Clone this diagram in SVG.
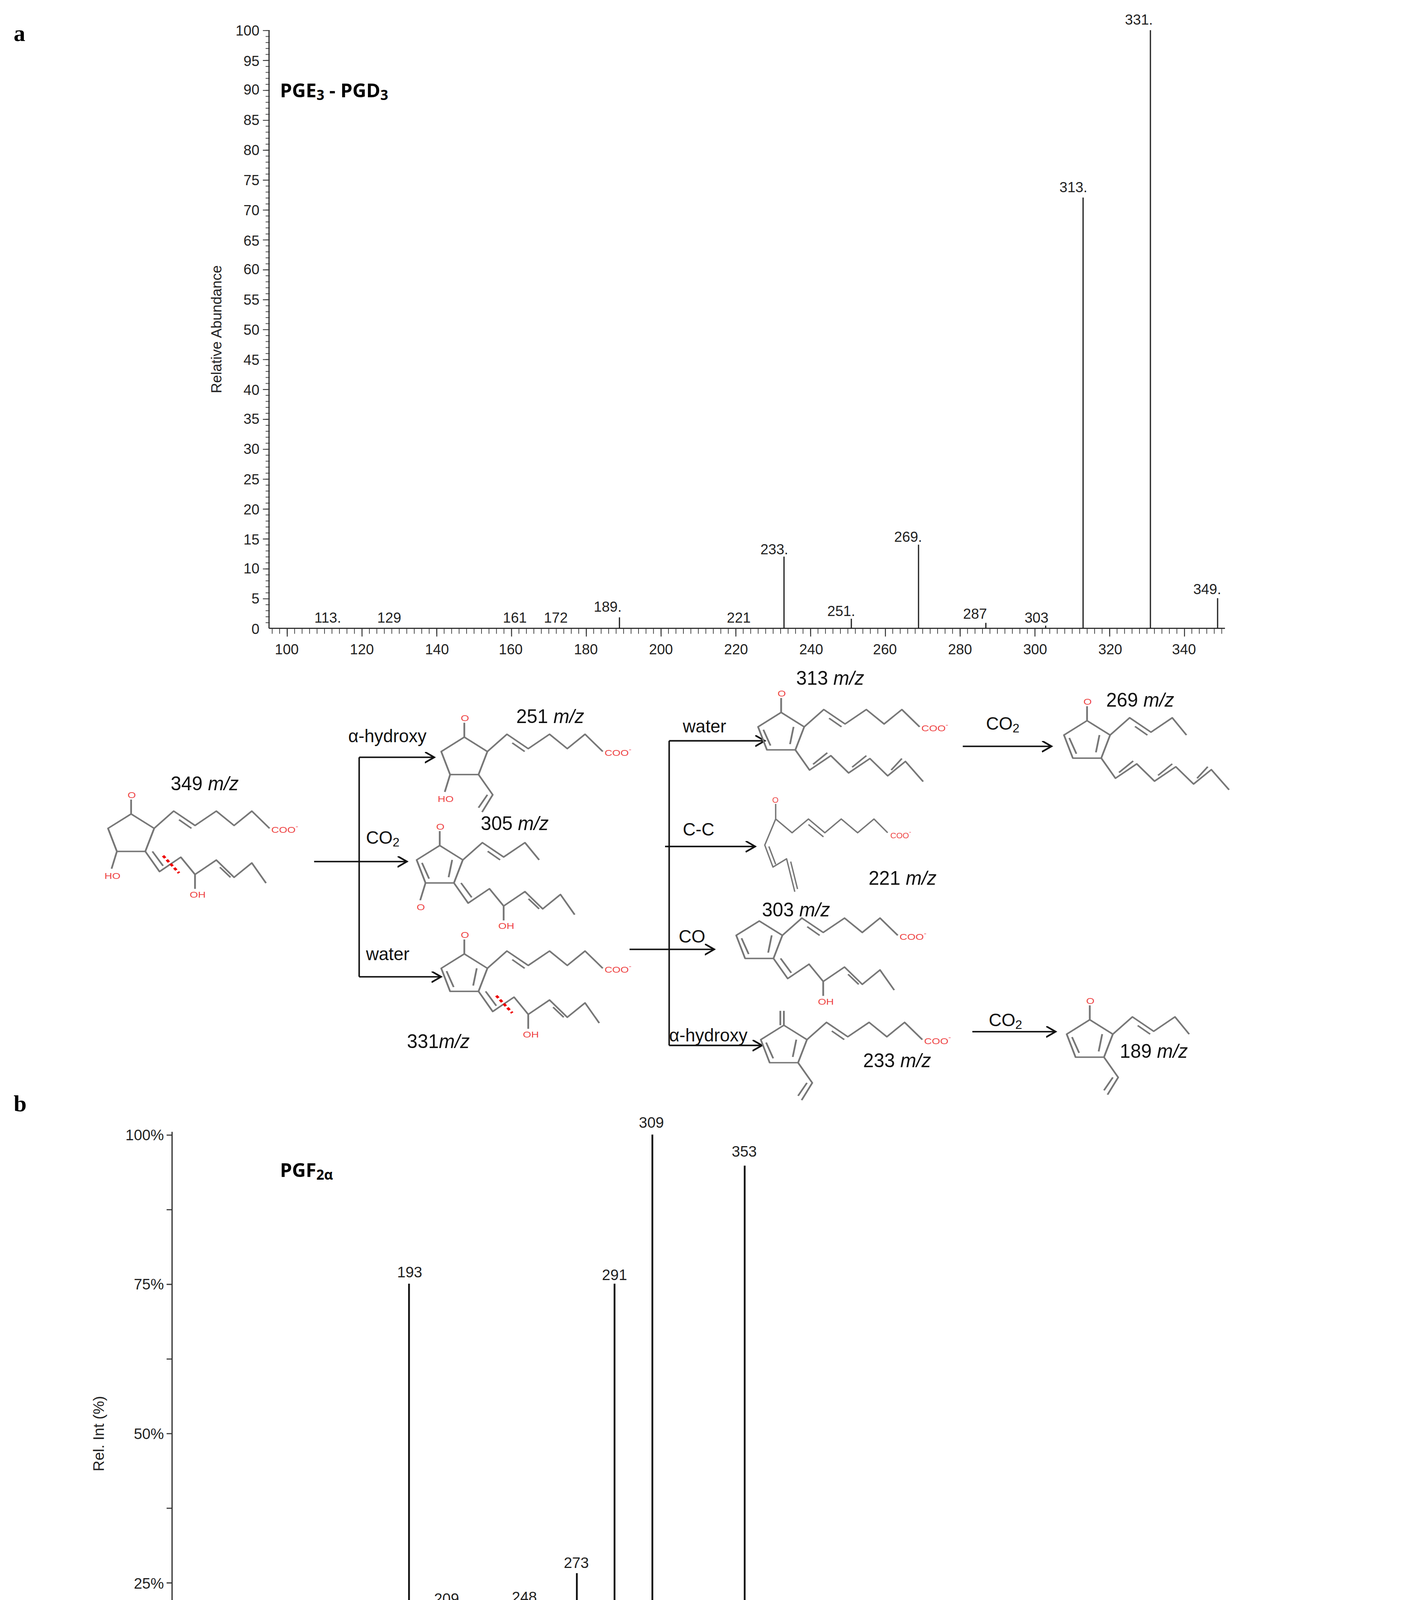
<svg xmlns="http://www.w3.org/2000/svg" xmlns:xlink="http://www.w3.org/1999/xlink" width="3644" height="5507" viewBox="0 0 3644 5507">
<style>
.ax{stroke:#333;stroke-width:0.9;fill:none}
.pk{stroke:#222;stroke-width:0.9}
.pkb{stroke:#111;stroke-width:1.3}
.tk{font-family:"Liberation Sans",Arial,sans-serif;font-size:10.5px;fill:#222}
.tkb{font-family:"Liberation Sans",Arial,sans-serif;font-size:11px;fill:#222}
.ttl{font-family:"Open Sans","Liberation Sans",sans-serif;font-size:14px;font-weight:bold;fill:#000}
.lbl{font-family:"Liberation Sans",Arial,sans-serif;font-size:14px;fill:#111}
.rx{font-family:"Liberation Sans",Arial,sans-serif;font-size:13px;fill:#111}
.pl{font-family:"Liberation Serif",serif;font-size:17px;font-weight:bold}
.bd{stroke:#777;stroke-width:1;fill:none;stroke-linejoin:round}
.red{font-family:"Liberation Sans",Arial,sans-serif;font-size:6px;fill:#e44}
.cut{stroke:#e00;stroke-width:1.6;stroke-dasharray:2 1.5;fill:none}
.arr{stroke:#111;stroke-width:1.1;fill:none}
</style>
<defs>
<marker id="ah" markerWidth="10" markerHeight="10" refX="7" refY="4" orient="auto" markerUnits="userSpaceOnUse"><path d="M0,0 L7,4 L0,8" fill="none" stroke="#111" stroke-width="1.2"/></marker>
<g id="ring"><path class="bd" d="M0,-14 L13,-4 L8,12 L-8,12 L-13,-4 Z"/></g>
<g id="ringd"><path class="bd" d="M0,-14 L13,-4 L8,12 L-8,12 L-13,-4 Z M-10,-2 L-6,9 M7,-4 L5,8"/></g>
<g id="upL"><path class="bd" d="M13,-4 L24,-16 L36,-6 L48,-16 L58,-6 L68,-16 L78,-4 M27,-10 L34,-4"/><text class="red" x="79" y="-1">COO<tspan dy="-3" font-size="4.5">-</tspan></text></g>
<g id="upS"><path class="bd" d="M13,-4 L24,-16 L36,-6 L48,-16 L56,-4 M27,-10 L34,-4"/></g>
<g id="loL"><path class="bd" d="M8,12 L16,26 L28,16 L36,28 L48,18 L58,30 L68,20 L76,34 M36,28 L36,38 M50,23 L56,30 M12,12 L18,22"/><text class="red" x="33" y="44">OH</text></g>
<g id="loP"><path class="bd" d="M8,12 L16,26 L28,16 L36,28 L48,18 L58,30 L68,20 L78,32 L86,20 M36,28 L36,38 M12,12 L18,22"/><text class="red" x="33" y="44">OH</text></g>
<g id="tri"><path class="bd" d="M8,12 L16,26 L28,16 L38,28 L50,18 L60,30 L70,20 L80,34 M18,22 L26,14 M40,24 L48,16 M62,26 L68,18"/></g>
<g id="vin"><path class="bd" d="M8,12 L16,26 L10,38 M13,26 L8,35"/></g>
<g id="eth"><path class="bd" d="M8,12 L18,24 L24,36"/></g>
<g id="oTop"><path class="bd" d="M0,-14 L0,-24"/><text class="red" x="-2" y="-25">O</text></g>
<g id="ohTop"><path class="bd" d="M0,-14 L0,-24"/><text class="red" x="-4" y="-25">HO</text></g>
<g id="ohBot"><path class="bd" d="M-8,12 L-11,24"/><text class="red" x="-15" y="31">HO</text></g>
<g id="omBot"><path class="bd" d="M-8,12 L-11,24"/><text class="red" x="-13" y="31">O</text></g>
<path id="cutm" class="cut" d="M18,15 L27,27"/>
</defs>
<g transform="scale(3.4971,3.5121)">
<text class="pl" x="10" y="30">a</text>
<text class="pl" x="10" y="810">b</text>

<g id="chartA">
<line class="ax" x1="197" y1="22" x2="197" y2="458"/>
<line class="ax" x1="197" y1="458" x2="897" y2="458"/>
<line x1="196" y1="22" x2="196" y2="458" stroke="#333" stroke-width="3" stroke-dasharray="0.5 3.86"/>
<line x1="194.5" y1="22" x2="194.5" y2="458" stroke="#333" stroke-width="4" stroke-dasharray="0.6 21.2"/>
<line x1="199.05" y1="460" x2="897" y2="460" stroke="#333" stroke-width="4" stroke-dasharray="0.5 4.975"/>
<line x1="210" y1="461" x2="897" y2="461" stroke="#333" stroke-width="6" stroke-dasharray="0.7 54.05"/>
<g class="tk" text-anchor="end">
<text x="190" y="462">0</text><text x="190" y="440">5</text><text x="190" y="418">10</text><text x="190" y="397">15</text><text x="190" y="375">20</text><text x="190" y="353">25</text><text x="190" y="331">30</text><text x="190" y="309">35</text><text x="190" y="288">40</text><text x="190" y="266">45</text><text x="190" y="244">50</text><text x="190" y="222">55</text><text x="190" y="200">60</text><text x="190" y="179">65</text><text x="190" y="157">70</text><text x="190" y="135">75</text><text x="190" y="113">80</text><text x="190" y="91">85</text><text x="190" y="69">90</text><text x="190" y="48">95</text><text x="190" y="26">100</text>
</g>
<g class="tk" text-anchor="middle">
<text x="210" y="477">100</text><text x="265" y="477">120</text><text x="320" y="477">140</text><text x="374" y="477">160</text><text x="429" y="477">180</text><text x="484" y="477">200</text><text x="539" y="477">220</text><text x="594" y="477">240</text><text x="648" y="477">260</text><text x="703" y="477">280</text><text x="758" y="477">300</text><text x="813" y="477">320</text><text x="867" y="477">340</text>
</g>
<text class="tk" font-size="10" transform="translate(162,240) rotate(-90)" text-anchor="middle">Relative Abundance</text>
<text class="ttl" x="205" y="71">PGE<tspan font-size="10" dy="2">3</tspan><tspan dy="-2"> - PGD</tspan><tspan font-size="10" dy="2">3</tspan></text>
<g class="pk">
<line x1="842.4" y1="458" x2="842.4" y2="22"/><line x1="793.1" y1="458" x2="793.1" y2="144"/><line x1="574.1" y1="458" x2="574.1" y2="405.7"/><line x1="672.6" y1="458" x2="672.6" y2="397"/><line x1="891.6" y1="458" x2="891.6" y2="436"/><line x1="453.6" y1="458" x2="453.6" y2="450"/><line x1="623.4" y1="458" x2="623.4" y2="451"/><line x1="721.9" y1="458" x2="721.9" y2="454"/><line x1="765.7" y1="458" x2="765.7" y2="456"/>
</g>
<g class="tk" text-anchor="middle">
<text x="834" y="18">331.</text><text x="786" y="140">313.</text><text x="567" y="404">233.</text><text x="665" y="395">269.</text><text x="884" y="433">349.</text><text x="445" y="446">189.</text><text x="616" y="449">251.</text><text x="714" y="451">287</text><text x="759" y="454">303</text><text x="541" y="454">221</text><text x="407" y="454">172</text><text x="377" y="454">161</text><text x="285" y="454">129</text><text x="240" y="454">113.</text>
</g>
</g>

<g id="chartB">
<line class="ax" x1="126" y1="825" x2="126" y2="1262"/>
<line class="ax" x1="126" y1="1262" x2="570" y2="1262"/>
<line x1="126" y1="1265" x2="570" y2="1265" stroke="#333" stroke-width="6" stroke-dasharray="0.8 29.9"/>
<line x1="124" y1="827" x2="124" y2="1262" stroke="#333" stroke-width="4" stroke-dasharray="0.8 53.6"/>
<g class="tkb" text-anchor="end">
<text x="120" y="831">100%</text><text x="120" y="940">75%</text><text x="120" y="1049">50%</text><text x="120" y="1158">25%</text>
</g>
<g class="tkb" text-anchor="middle">
<text x="126" y="1279">80</text><text x="187" y="1279">120</text><text x="249" y="1279">160</text><text x="310" y="1279">200</text><text x="372" y="1279">240</text><text x="433" y="1279">280</text><text x="495" y="1279">320</text><text x="556" y="1279">360</text>
</g>
<text class="tk" x="376" y="1292" text-anchor="middle" font-size="9">m/z, amu</text>
<text class="tkb" transform="translate(76,1045) rotate(-90)" text-anchor="middle">Rel. Int (%)</text>
<text class="ttl" x="205" y="858">PGF<tspan font-size="10" dy="2">2α</tspan></text>
<g class="pkb">
<path d="M172.1,1262 V1228 H173.6 V1195.9" fill="none"/>
<path d="M255.9,1262 V1232.9 H257.3 V1201.5" fill="none"/>
<line x1="265.7" y1="1262" x2="265.7" y2="1179.4"/><line x1="281.1" y1="1262" x2="281.1" y2="1218.9"/><line x1="299.5" y1="1262" x2="299.5" y2="935.7"/><line x1="324.1" y1="1262" x2="324.1" y2="1171.5"/><line x1="339.5" y1="1262" x2="339.5" y2="1214.2"/><line x1="364.8" y1="1262" x2="364.8" y2="1196.8"/><line x1="384" y1="1262" x2="384" y2="1172"/><line x1="394.7" y1="1262" x2="394.7" y2="1223.7"/><line x1="407" y1="1262" x2="407" y2="1226.8"/><line x1="422.4" y1="1262" x2="422.4" y2="1146.7"/><line x1="434.7" y1="1262" x2="434.7" y2="1222.9"/><line x1="450" y1="1262" x2="450" y2="935.7"/><line x1="462.3" y1="1262" x2="462.3" y2="1185"/><line x1="477.7" y1="1262" x2="477.7" y2="827"/><line x1="490" y1="1262" x2="490" y2="1190.7"/><line x1="517.6" y1="1262" x2="517.6" y2="1228"/><line x1="545.3" y1="1262" x2="545.3" y2="849.6"/>
</g>
<g class="tkb" text-anchor="middle">
<text x="175" y="1191">111</text><text x="248" y="1199">165</text><text x="266" y="1175">171</text><text x="284" y="1216">181</text><text x="300" y="931">193</text><text x="327" y="1169">209</text><text x="346" y="1211">219</text><text x="364" y="1192">235</text><text x="384" y="1168">248</text><text x="422" y="1143">273</text><text x="434" y="1218">281</text><text x="450" y="933">291</text><text x="467" y="1183">299</text><text x="477" y="822">309</text><text x="494" y="1188">317</text><text x="517" y="1224">335</text><text x="545" y="843">353</text>
</g>
</g>

<g id="connectors">
<line class="arr" x1="230" y1="628" x2="298" y2="628" marker-end="url(#ah)"/>
<line class="arr" x1="263" y1="552" x2="263" y2="712"/>
<line class="arr" x1="263" y1="552" x2="318" y2="552" marker-end="url(#ah)"/>
<line class="arr" x1="263" y1="712" x2="323" y2="712" marker-end="url(#ah)"/>
<line class="arr" x1="490" y1="540" x2="490" y2="762"/>
<line class="arr" x1="490" y1="540" x2="560" y2="540" marker-end="url(#ah)"/>
<line class="arr" x1="487" y1="617" x2="553" y2="617" marker-end="url(#ah)"/>
<line class="arr" x1="461" y1="692" x2="523" y2="692" marker-end="url(#ah)"/>
<line class="arr" x1="490" y1="762" x2="558" y2="762" marker-end="url(#ah)"/>
<line class="arr" x1="705" y1="544" x2="770" y2="544" marker-end="url(#ah)"/>
<line class="arr" x1="712" y1="752" x2="773" y2="752" marker-end="url(#ah)"/>
<line class="arr" x1="235" y1="1408" x2="298" y2="1408" marker-end="url(#ah)"/>
<line class="arr" x1="266" y1="1340" x2="266" y2="1513"/>
<line class="arr" x1="266" y1="1340" x2="328" y2="1340" marker-end="url(#ah)"/>
<line class="arr" x1="266" y1="1513" x2="328" y2="1513" marker-end="url(#ah)"/>
<line class="arr" x1="487" y1="1320" x2="487" y2="1530"/>
<line class="arr" x1="487" y1="1320" x2="558" y2="1320" marker-end="url(#ah)"/>
<line class="arr" x1="485" y1="1432" x2="553" y2="1432" marker-end="url(#ah)"/>
<line class="arr" x1="461" y1="1496" x2="520" y2="1496" marker-end="url(#ah)"/>
<line class="arr" x1="487" y1="1530" x2="563" y2="1530" marker-end="url(#ah)"/>
<line class="arr" x1="676" y1="1315" x2="740" y2="1315" marker-end="url(#ah)"/>
<line class="arr" x1="704" y1="1252" x2="704" y2="1382"/>
<line class="arr" x1="704" y1="1252" x2="775" y2="1252" marker-end="url(#ah)"/>
<line class="arr" x1="704" y1="1382" x2="775" y2="1382" marker-end="url(#ah)"/>
<line class="arr" x1="910" y1="1385" x2="960" y2="1385" marker-end="url(#ah)"/>
<line class="arr" x1="700" y1="1535" x2="745" y2="1535" marker-end="url(#ah)"/>
</g>

<g id="rxlabels" class="rx">
<text x="255" y="541">α-hydroxy</text><text x="268" y="615">CO<tspan font-size="9" dy="2">2</tspan></text><text x="268" y="700">water</text>
<text x="500" y="534">water</text><text x="500" y="609">C-C</text><text x="497" y="687">CO</text><text x="490" y="759">α-hydroxy</text>
<text x="722" y="532">CO<tspan font-size="9" dy="2">2</tspan></text><text x="724" y="748">CO<tspan font-size="9" dy="2">2</tspan></text>
<text x="257" y="1323">α-hydroxy</text><text x="270" y="1395">CO<tspan font-size="9" dy="2">2</tspan></text><text x="268" y="1479">water</text>
<text x="499" y="1315">water</text><text x="498" y="1388">C-C</text><text x="495" y="1465">CO<tspan font-size="9" dy="2">2</tspan></text><text x="490" y="1536">α-hydroxy</text>
<text x="714" y="1253">water</text><text x="710" y="1305">CO<tspan font-size="9" dy="2">2</tspan></text><text x="705" y="1375">α-hydroxy</text>
<text x="922" y="1391">CO<tspan font-size="9" dy="2">2</tspan></text><text x="929" y="1409">H<tspan font-size="9" dy="2">2</tspan></text>
<text x="710" y="1528">CO<tspan font-size="9" dy="2">2</tspan></text><text x="712" y="1554">H<tspan font-size="9" dy="2">2</tspan></text>
</g>

<g id="mzlabels" class="lbl">
<text x="125" y="576">349 <tspan font-style="italic">m/z</tspan></text>
<text x="378" y="527">251 <tspan font-style="italic">m/z</tspan></text>
<text x="352" y="605">305 <tspan font-style="italic">m/z</tspan></text>
<text x="298" y="764">331<tspan font-style="italic">m/z</tspan></text>
<text x="583" y="499">313 <tspan font-style="italic">m/z</tspan></text>
<text x="810" y="515">269 <tspan font-style="italic">m/z</tspan></text>
<text x="636" y="645">221 <tspan font-style="italic">m/z</tspan></text>
<text x="558" y="668">303 <tspan font-style="italic">m/z</tspan></text>
<text x="632" y="778">233 <tspan font-style="italic">m/z</tspan></text>
<text x="820" y="771">189 <tspan font-style="italic">m/z</tspan></text>
<text x="128" y="1357">353 <tspan font-style="italic">m/z</tspan></text>
<text x="390" y="1308">255 <tspan font-style="italic">m/z</tspan></text>
<text x="355" y="1387">309 <tspan font-style="italic">m/z</tspan></text>
<text x="355" y="1539">335 <tspan font-style="italic">m/z</tspan></text>
<text x="580" y="1282">317 <tspan font-style="italic">m/z</tspan></text>
<text x="818" y="1230">299 <tspan font-style="italic">m/z</tspan></text>
<text x="855" y="1300">273 <tspan font-style="italic">m/z</tspan></text>
<text x="843" y="1392">219 <tspan font-style="italic">m/z</tspan></text>
<text x="964" y="1392">173 <tspan font-style="italic">m/z</tspan></text>
<text x="630" y="1422">209 <tspan font-style="italic">m/z</tspan></text>
<text x="587" y="1447">291 <tspan font-style="italic">m/z</tspan></text>
<text x="625" y="1552">235 <tspan font-style="italic">m/z</tspan></text>
<text x="808" y="1574">193 <tspan font-style="italic">m/z</tspan></text>
</g>

<g id="m349" transform="translate(96,608) scale(1.3,1.05)"><use xlink:href="#ring"/><use xlink:href="#oTop"/><use xlink:href="#upL"/><use xlink:href="#loL"/><use xlink:href="#ohBot"/><use xlink:href="#cutm"/></g>
<g id="m251" transform="translate(340,552) scale(1.3,1.05)"><use xlink:href="#ring"/><use xlink:href="#oTop"/><use xlink:href="#upL"/><use xlink:href="#vin"/><use xlink:href="#ohBot"/></g>
<g id="m305" transform="translate(322,631) scale(1.3,1.05)"><use xlink:href="#ringd"/><use xlink:href="#oTop"/><use xlink:href="#upS"/><use xlink:href="#loL"/><use xlink:href="#omBot"/></g>
<g id="m331" transform="translate(340,710) scale(1.3,1.05)"><use xlink:href="#ringd"/><use xlink:href="#oTop"/><use xlink:href="#upL"/><use xlink:href="#loL"/><use xlink:href="#cutm"/></g>
<g id="m313" transform="translate(572,534) scale(1.3,1.05)"><use xlink:href="#ringd"/><use xlink:href="#oTop"/><use xlink:href="#upL"/><use xlink:href="#tri"/></g>
<g id="m269" transform="translate(796,540) scale(1.3,1.05)"><use xlink:href="#ringd"/><use xlink:href="#oTop"/><use xlink:href="#upS"/><use xlink:href="#tri"/></g>
<g id="m221"><path class="bd" d="M568,586 L568,597 L580,607 L592,597 L604,607 L616,597 L628,607 L640,597 L650,607 M592,601 L603,610 M568,597 L560,616 L566,632 L576,626 L582,650 M563,617 L568,630 M579,628 L584,648"/><text class="red" x="565.5" y="585">O</text><text class="red" x="652" y="611">COO<tspan dy="-3" font-size="4.5">-</tspan></text></g>
<g id="m303" transform="translate(556,686) scale(1.3,1.05)"><use xlink:href="#ringd"/><use xlink:href="#upL"/><use xlink:href="#loL"/></g>
<g id="m233" transform="translate(574,762) scale(1.3,1.05)"><use xlink:href="#ringd"/><path class="bd" d="M0,-14 L0,-24 M-2,-14 L-2,-24"/><use xlink:href="#upL"/><use xlink:href="#vin"/></g>
<g id="m189" transform="translate(798,758) scale(1.3,1.05)"><use xlink:href="#ringd"/><use xlink:href="#oTop"/><use xlink:href="#upS"/><use xlink:href="#vin"/></g>

<g id="m353" transform="translate(97,1395) scale(1.3,1.05)"><use xlink:href="#ring"/><use xlink:href="#ohTop"/><use xlink:href="#upL"/><use xlink:href="#loP"/><use xlink:href="#ohBot"/><use xlink:href="#cutm"/></g>
<g id="m255" transform="translate(352,1332) scale(1.3,1.05)"><use xlink:href="#ring"/><use xlink:href="#ohTop"/><use xlink:href="#upL"/><use xlink:href="#eth"/><use xlink:href="#ohBot"/></g>
<g id="m309" transform="translate(318,1414) scale(1.3,1.05)"><use xlink:href="#ringd"/><use xlink:href="#oTop"/><use xlink:href="#upS"/><use xlink:href="#loP"/><use xlink:href="#ohBot"/></g>
<g id="m335" transform="translate(334,1489) scale(1.3,1.05)"><use xlink:href="#ringd"/><use xlink:href="#upL"/><use xlink:href="#loP"/><use xlink:href="#ohBot"/><use xlink:href="#cutm"/></g>
<g id="m317" transform="translate(570,1305) scale(1.3,1.05)"><use xlink:href="#ringd"/><use xlink:href="#upL"/><use xlink:href="#loP"/><use xlink:href="#cutm"/></g>
<g id="m299" transform="translate(790,1247) scale(1.3,1.05)"><use xlink:href="#ringd"/><use xlink:href="#upL"/><use xlink:href="#tri"/></g>
<g id="m273" transform="translate(762,1303) scale(1.3,1.05)"><use xlink:href="#ringd"/><use xlink:href="#upS"/><path class="bd" d="M8,12 L16,26 L28,16 L36,28 L48,18 L58,30 L68,18 M36,28 L36,38 M18,22 L26,14"/><text class="red" x="34" y="44">O</text></g>
<g id="m219" transform="translate(797,1368) scale(1.3,1.05)"><use xlink:href="#ringd"/><use xlink:href="#upL"/><use xlink:href="#eth"/></g>
<g id="m209"><path class="bd" d="M575,1391 L575,1402 L587,1412 L599,1402 L611,1412 L623,1402 L635,1412 L647,1402 L657,1412 M578,1404 L586,1410 M599,1406 L610,1415 M575,1402 L568,1420 L570,1436 L582,1432 M572,1421 L574,1433"/><text class="red" x="572.5" y="1390">O</text><text class="red" x="659" y="1416">COO<tspan dy="-3" font-size="4.5">-</tspan></text></g>
<g id="m291" transform="translate(545,1464) scale(1.3,1.05)"><use xlink:href="#ringd"/><use xlink:href="#upS"/><use xlink:href="#loP"/><use xlink:href="#omBot"/></g>
<g id="m235" transform="translate(584,1522) scale(1.3,1.05)"><use xlink:href="#ringd"/><use xlink:href="#upL"/><use xlink:href="#vin"/><use xlink:href="#ohBot"/></g>
<g id="m193" transform="translate(762,1535) scale(1.3,1.05)"><use xlink:href="#ringd"/><use xlink:href="#upS"/><use xlink:href="#eth"/><use xlink:href="#omBot"/></g>
</g>
</svg>
